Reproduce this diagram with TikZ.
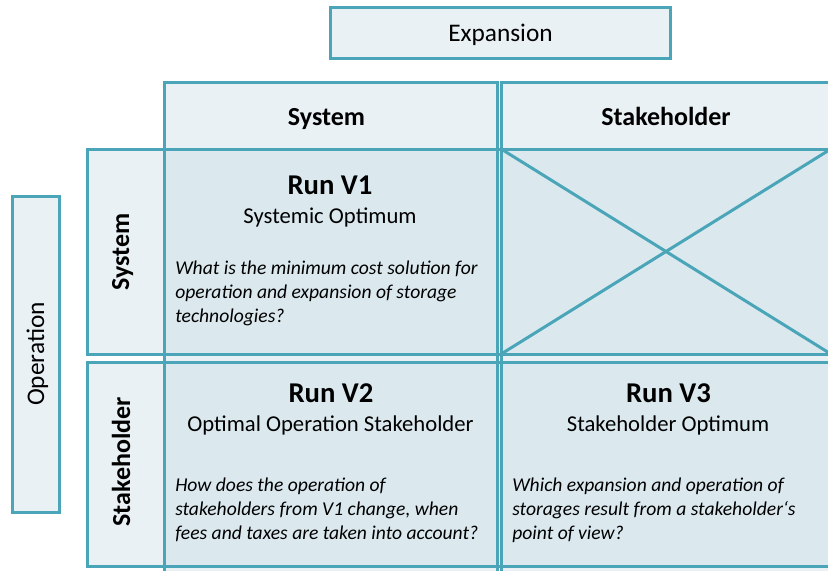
\documentclass[tikz,border=0pt]{standalone}
\usepackage{fontspec}
\setmainfont{Carlito}
\usetikzlibrary{fit,backgrounds}
\definecolor{frameTeal}{HTML}{4BA5B8}
\definecolor{paleFill}{HTML}{EAF1F5}
\definecolor{cellFill}{HTML}{DBE9EF}
\begin{document}
\begin{tikzpicture}[x=0.75pt,y=-0.75pt,
  frame/.style={draw=frameTeal, line width=2.25pt, inner sep=0pt, rectangle},
  crossline/.style={draw=frameTeal, line width=2.25pt},
  head/.style={font=\fontsize{19.5}{23}\selectfont\bfseries, anchor=base, inner sep=0pt},
  axislbl/.style={font=\fontsize{19}{23}\selectfont, anchor=base, inner sep=0pt},
  runtitle/.style={font=\fontsize{21.5}{26}\selectfont\bfseries, anchor=base, inner sep=0pt},
  runsub/.style={font=\fontsize{17}{20}\selectfont, anchor=base, inner sep=0pt},
  question/.style={font=\fontsize{14.7}{18}\selectfont\itshape, align=left, anchor=west, inner sep=0pt},
]
\useasboundingbox (0,0) rectangle (828,571);

% frames: axis boxes, columns and rows of the matrix
\node[frame, fit={(330,7) (670,58)}] (expBox) {};
\node[frame, fit={(12,196) (59,512)}] (opBox) {};
\node[frame, fit={(164,82) (497,585)}] (colSys) {};
\node[frame, fit={(501,82) (840,585)}] (colStk) {};
\node[frame, fit={(87,149) (840,354)}] (rowSys) {};
\node[frame, fit={(87,362) (840,566)}] (rowStk) {};
\node[inner sep=0pt, fit={(501,149) (831,354)}] (emptyCell) {};

% fills behind the frame lines
\begin{scope}[on background layer]
  \fill[paleFill] (expBox.north west) rectangle (expBox.south east);
  \fill[paleFill] (opBox.north west) rectangle (opBox.south east);
  \fill[paleFill] (colSys.north west) rectangle (colSys.south east);
  \fill[paleFill] (colStk.north west) rectangle (colStk.south east);
  \fill[paleFill] (rowSys.north west) rectangle (rowSys.south east);
  \fill[paleFill] (rowStk.north west) rectangle (rowStk.south east);
  \fill[cellFill] (colSys.west |- rowSys.north) rectangle (colSys.east |- rowSys.south);
  \fill[cellFill] (colSys.west |- rowStk.north) rectangle (colSys.east |- rowStk.south);
  \fill[cellFill] (colStk.west |- rowSys.north) rectangle (colStk.east |- rowSys.south);
  \fill[cellFill] (colStk.west |- rowStk.north) rectangle (colStk.east |- rowStk.south);
\end{scope}

% the unused combination is crossed out
\draw[crossline] (emptyCell.north west) -- (emptyCell.south east);
\draw[crossline] (emptyCell.south west) -- (emptyCell.north east);

% axis labels
\node[axislbl] (expLbl) at (500.5,41.7) {Expansion};
\node[axislbl, rotate=90] (opLbl) at (44,354) {Operation};
\node[head] (hSys) at (326.5,125) {System};
\node[head] (hStk) at (666,125) {Stakeholder};
\node[head, rotate=90] (vSys) at (129,252) {System};
\node[head, rotate=90] (vStk) at (130,462) {Stakeholder};

% runs
\node[runtitle] (r1) at (330,194) {Run V1};
\node[runsub] (s1) at (330,223.3) {Systemic Optimum};
\node[question] (q1) at (175,293) {What is the minimum cost solution for\\operation and expansion of storage\\technologies?};

\node[runtitle] (r2) at (331,402) {Run V2};
\node[runsub] (s2) at (330.5,431) {Optimal Operation Stakeholder};
\node[question] (q2) at (175,510) {How does the operation of\\stakeholders from V1 change, when\\fees and taxes are taken into account?};

\node[runtitle] (r3) at (668.5,402) {Run V3};
\node[runsub] (s3) at (668,431) {Stakeholder Optimum};
\node[question] (q3) at (512,510) {Which expansion and operation of\\storages result from a stakeholder‘s\\point of view?};
\end{tikzpicture}
\end{document}
